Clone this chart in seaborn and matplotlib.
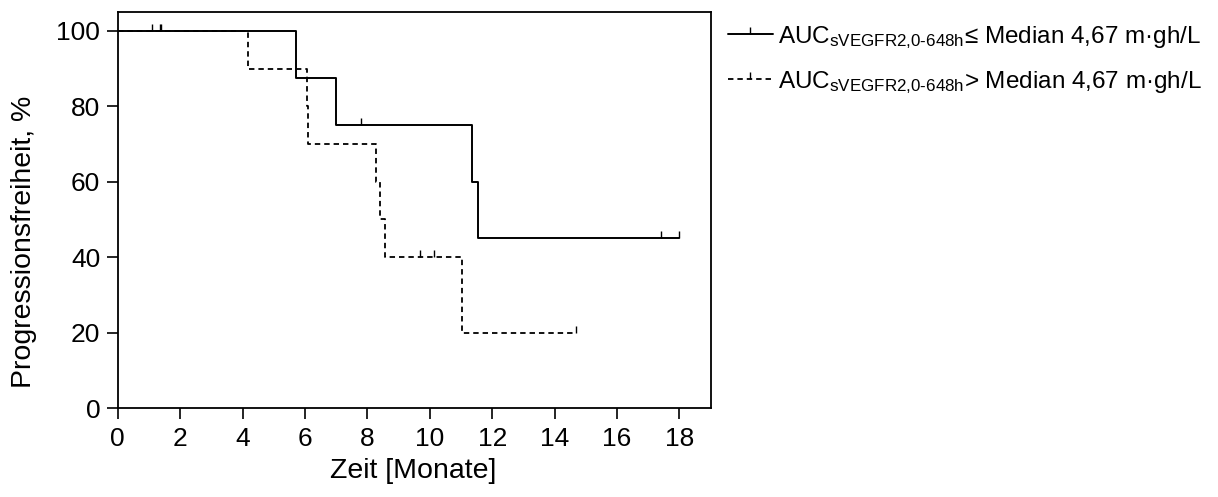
import numpy as np
import pandas as pd
import matplotlib
matplotlib.use("Agg")
import matplotlib.pyplot as plt
from matplotlib.lines import Line2D
import seaborn as sns

# ---- data ----
low_times = [0, 5.70, 7.00, 11.36, 11.54, 18.0]
low_surv = [100, 87.5, 75.0, 60.0, 45.0, 45.0]
low_cens_t = [1.10, 1.35, 7.80, 17.40, 18.0]
low_cens_s = [100, 100, 75.0, 45.0, 45.0]

high_times = [0, 4.18, 6.05, 6.10, 8.29, 8.42, 8.58, 11.04, 14.68]
high_surv = [100, 90.0, 80.0, 70.0, 60.0, 50.0, 40.0, 20.0, 20.0]
high_cens_t = [1.38, 9.70, 10.12, 14.68]
high_cens_s = [100, 40.0, 40.0, 20.0]

labels = [r"AUC$_{\mathrm{sVEGFR2{,}0\text{-}648h}}$≤ Median 4,67 m·gh/L",
          r"AUC$_{\mathrm{sVEGFR2{,}0\text{-}648h}}$> Median 4,67 m·gh/L"]
x_ticks = [0, 2, 4, 6, 8, 10, 12, 14, 16, 18]
y_ticks = [0, 20, 40, 60, 80, 100]

sns.set_theme(style="ticks")
plt.rcParams["font.family"] = ["Liberation Sans", "DejaVu Sans"]
plt.rcParams["text.color"] = "black"
plt.rcParams["mathtext.fontset"] = "custom"
plt.rcParams["mathtext.rm"] = "Liberation Sans"
plt.rcParams["mathtext.it"] = "Liberation Sans"
plt.rcParams["mathtext.bf"] = "Liberation Sans"

df = pd.concat([
    pd.DataFrame({"t": low_times, "s": low_surv, "g": "low"}),
    pd.DataFrame({"t": high_times, "s": high_surv, "g": "high"}),
])

fig = plt.figure(figsize=(12.18, 4.97), dpi=100)
ax = fig.add_axes([117.7 / 1218, 1 - 408 / 497, (710.7 - 117.7) / 1218, (408 - 12) / 497])

styles = {"low": ("-", 1.4), "high": ((0, (3, 2.2)), 1.3)}
for g, (ls, lw) in styles.items():
    sub = df[df.g == g]
    sns.lineplot(data=sub, x="t", y="s", ax=ax, color="black", linewidth=lw,
                 drawstyle="steps-post", estimator=None, sort=False, legend=False)
    ax.lines[-1].set_linestyle(ls)

ax.plot(low_cens_t, low_cens_s, linestyle="none", marker=2, markersize=5,
        markeredgewidth=1.0, color="black")
ax.plot(high_cens_t, high_cens_s, linestyle="none", marker=2, markersize=5,
        markeredgewidth=1.0, color="black")

ax.set_xlim(0, 19)
ax.set_ylim(0, 105)
ax.set_xticks(x_ticks)
ax.set_yticks(y_ticks)
ax.tick_params(axis="both", direction="out", length=8, width=1.2, labelsize=19,
               color="black", labelcolor="black")
ax.tick_params(axis="x", pad=5.5)
ax.tick_params(axis="y", pad=4.5)
for sp in ax.spines.values():
    sp.set_visible(True)
    sp.set_color("black")
    sp.set_linewidth(1.3)
ax.set_xlabel("Zeit [Monate]", fontsize=20.5, color="black")
ax.set_ylabel("Progressionsfreiheit, %", fontsize=20.5, color="black")
ax.xaxis.set_label_coords(0.499, -0.125)
ax.yaxis.set_label_coords(-0.136, 0.419)

handles = [
    Line2D([], [], color="black", lw=1.4, ls="-", marker=2, markersize=5, markeredgewidth=1.0),
    Line2D([], [], color="black", lw=1.3, ls=(0, (3, 2.2)), marker=2, markersize=5, markeredgewidth=1.0),
]
fig.legend(handles, labels, loc="upper left", bbox_to_anchor=(728 / 1218, 1 - 24 / 497),
           frameon=False, fontsize=17.5, handlelength=1.85, handletextpad=0.2,
           labelspacing=0.75, borderpad=0, borderaxespad=0, labelcolor="black")

fig.savefig("out.png", dpi=100)
